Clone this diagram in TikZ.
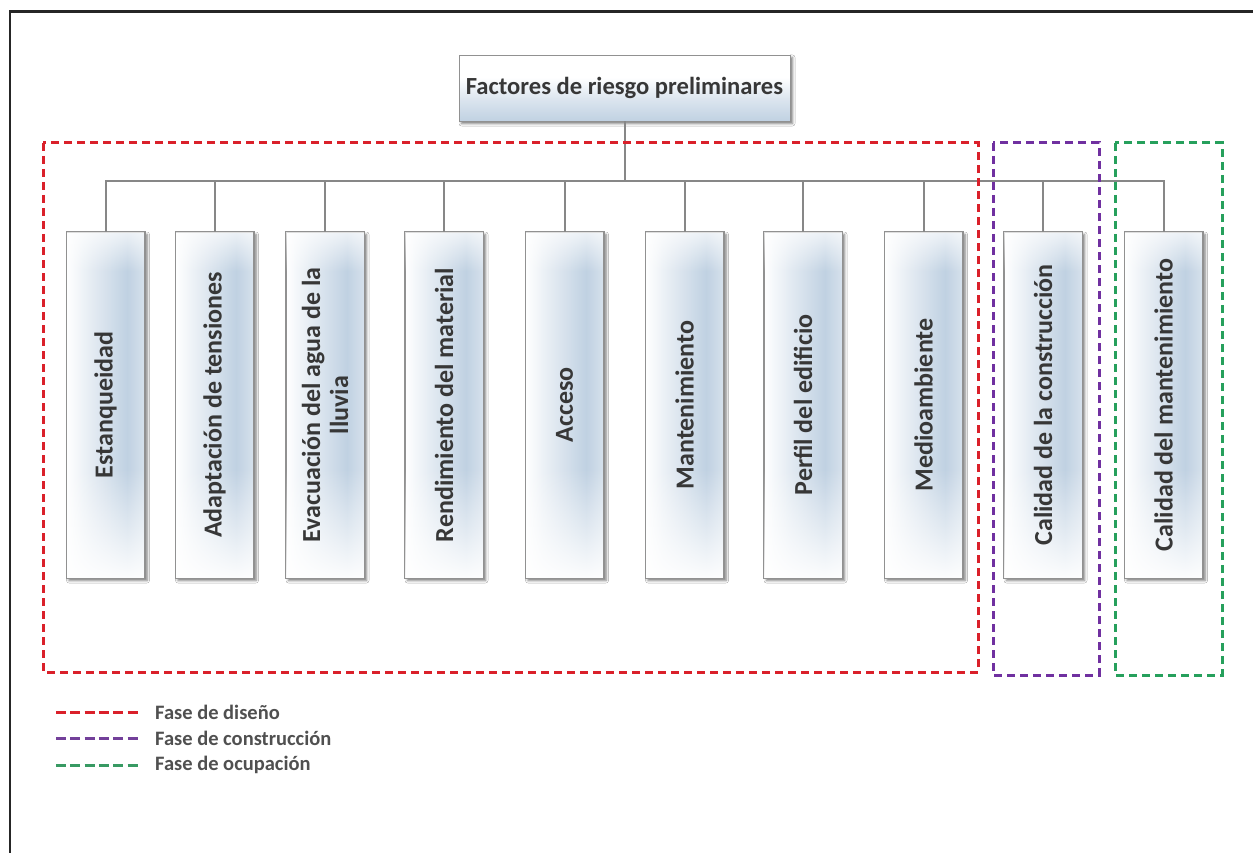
\documentclass[tikz,border=0pt]{standalone}
\usepackage{fontspec}
\setmainfont{Carlito}
\usetikzlibrary{shadows.blur,fadings,calc}
\definecolor{sb}{RGB}{192,209,226}
\definecolor{txt}{RGB}{55,55,55}
\definecolor{legtxt}{RGB}{80,80,80}
\definecolor{conn}{RGB}{135,135,135}
\definecolor{bord}{RGB}{145,145,145}
\definecolor{dred}{RGB}{218,32,42}
\definecolor{dpur}{RGB}{112,48,160}
\definecolor{dgre}{RGB}{38,160,92}
\pgfdeclarehorizontalshading{childshade}{100bp}{color(0bp)=(white); color(25bp)=(white); color(42bp)=(white!55!sb); color(64bp)=(sb); color(72bp)=(sb!75!white); color(75bp)=(sb!65!white); color(100bp)=(sb!65!white)}
\pgfdeclareverticalshading{titleshade}{100bp}{color(0bp)=(sb); color(25bp)=(sb); color(42bp)=(sb!55!white); color(58bp)=(white); color(75bp)=(white); color(100bp)=(white)}
\tikzset{
  boxshadow/.style={blur shadow={shadow xshift=2.5pt, shadow yshift=-2.5pt, shadow blur radius=2.5pt, shadow opacity=55}},
  childbox/.style={rectangle, minimum width=78pt, minimum height=346pt, inner sep=0pt, shading=childshade, draw=bord, line width=0.9pt, boxshadow},
  childlabel/.style={rotate=90, font=\fontsize{26}{28}\selectfont\bfseries, text=txt, align=center, inner sep=0pt},
  titlebox/.style={rectangle, minimum width=331pt, minimum height=66pt, inner sep=0pt, shading=titleshade, draw=bord, line width=0.9pt, boxshadow, font=\fontsize{24.6}{30}\selectfont\bfseries, text=txt},
  connline/.style={draw=conn, line width=2pt},
  phasebox/.style={line width=3pt, dash pattern=on 8pt off 5pt},
  legline/.style={line width=3pt, dash pattern=on 10pt off 4.3pt},
  legtext/.style={anchor=west, font=\fontsize{20.5}{24}\selectfont\bfseries, text=legtxt, inner sep=0pt},
  framel/.style={line width=2.5pt, draw=black!85}
}
\begin{document}
\begin{tikzpicture}[x=1pt,y=-1pt]
\useasboundingbox[fill=white] (0,0) rectangle (1253,853);
% outer frame (left and top)
\coordinate (fbl) at (10,853);
\coordinate (ftl) at (10,11.5);
\coordinate (ftr) at (1253,11.5);
\draw[framel] (fbl) -- (ftl) -- (ftr);
% title
\node[titlebox] (title) at (624.5,88) {Factores de riesgo preliminares};
% children
\foreach \n/\x/\t in {c1/105.5/{Estanqueidad},
                      c2/214.5/{Adaptación de tensiones},
                      c3/325/{Evacuación del agua de la\\lluvia},
                      c4/444/{Rendimiento del material},
                      c5/564.5/{Acceso},
                      c6/684.5/{Mantenimiento},
                      c7/803/{Perfil del edificio},
                      c8/923.5/{Medioambiente},
                      c9/1043/{Calidad de la construcción},
                      c10/1163.5/{Calidad del mantenimiento}}{
  \node[childbox] (\n) at (\x,405) {};
  \fill[white, path fading=north, fill opacity=0.95] ($(\n.south west)+(0.9,-0.9)$) rectangle ($(\n.south east)+(-0.9,-110)$);
  \fill[white, path fading=south, fill opacity=0.7] ($(\n.north west)+(0.9,0.9)$) rectangle ($(\n.north east)+(-0.9,40)$);
  \draw[draw=bord, line width=0.9pt] (\n.south west) rectangle (\n.north east);
  \node[childlabel] (\n-t) at (\n) {\t};
  \draw[connline] (title.south) -- ++(0,60) -| (\n.north);
}
% phase boxes
\draw[phasebox, dred] (43,143) rectangle (978,672);
\draw[phasebox, dpur] (993,143) rectangle (1099,675);
\draw[phasebox, dgre] (1115,143) rectangle (1222,675);
% legend
\coordinate (l1a) at (56,712); \coordinate (l1b) at (140,712);
\coordinate (l2a) at (56,738); \coordinate (l2b) at (140,738);
\coordinate (l3a) at (56,765); \coordinate (l3b) at (140,765);
\draw[legline, dred] (l1a) -- (l1b);
\draw[legline, dpur!80!gray] (l2a) -- (l2b);
\draw[legline, dgre!80!gray] (l3a) -- (l3b);
\node[legtext] (leg1) at (155,712) {Fase de diseño};
\node[legtext] (leg2) at (155,738) {Fase de construcción};
\node[legtext] (leg3) at (155,765) {Fase de ocupación};
\end{tikzpicture}
\end{document}
